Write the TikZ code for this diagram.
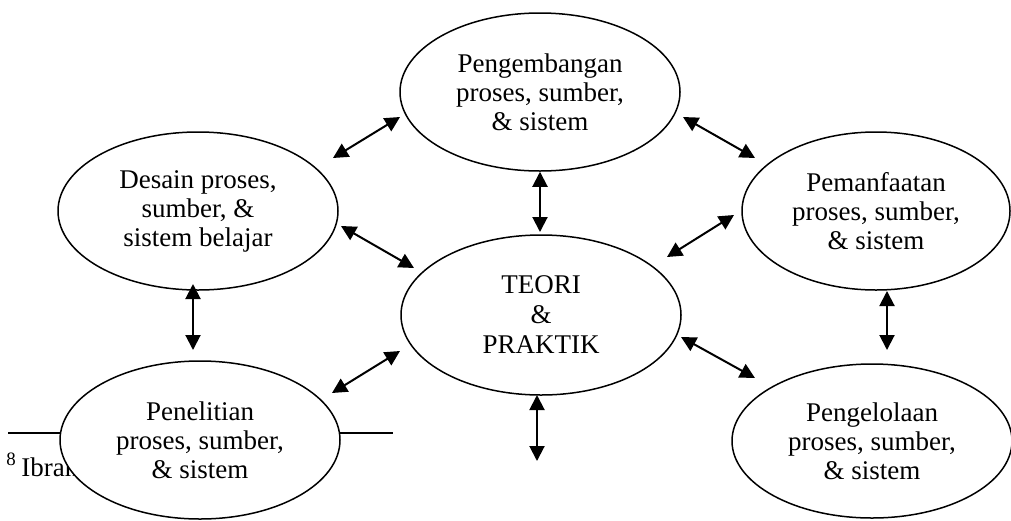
\documentclass[tikz,border=0pt]{standalone}
\usepackage{fontspec}
\setmainfont{Liberation Serif}
\usetikzlibrary{shapes.geometric, arrows.meta, calc}

\tikzset{
  ellbox/.style={ellipse, draw, line width=0.75pt, fill=white,
    minimum width=140pt, minimum height=79pt, inner sep=0pt,
    align=center, font=\fontsize{13.5}{14.5}\selectfont},
  duo/.style={{Triangle[length=7.5pt,width=7.5pt]}-{Triangle[length=7.5pt,width=7.5pt]},
    line width=1pt},
}

\begin{document}
\begin{tikzpicture}[x=0.5pt, y=-0.5pt]
  \useasboundingbox (0,0) rectangle (1011,520);

  % footnote rule, partly under the lower left ellipse
  \draw[line width=1pt] (8,433) -- (393,433);
  \node[anchor=west, inner sep=0pt, font=\fontsize{13.5}{15}\selectfont] (fn) at (6,465) {\textsuperscript{8}\,Ibrahim};

  % ellipses
  \node[ellbox] (dev) at (540,92) {Pengembangan\\proses, sumber,\\\& sistem};
  \node[ellbox] (desain) at (198,211) {Desain proses,\\sumber, \&\\sistem belajar};
  \node[ellbox, minimum width=134pt] (guna) at (876,211) {Pemanfaatan\\proses, sumber,\\\& sistem};
  \node[ellbox, minimum height=80pt, font=\fontsize{13.5}{15}\selectfont] (teori) at (541,315) {TEORI\\\&\\PRAKTIK};
  \node[ellbox] (teliti) at (200,440) {Penelitian\\proses, sumber,\\\& sistem};
  \node[ellbox, minimum height=77pt] (kelola) at (872,441) {Pengelolaan\\proses, sumber,\\\& sistem};

  % two-way arrows
  \draw[duo] ($(dev)+(-140,25)$) -- ($(desain)+(135,-53)$);
  \draw[duo] ($(dev)+(143,25)$) -- ($(guna)+(-121,-53)$);
  \draw[duo] (dev.south) -- ($(teori)+(-1,-83)$);
  \draw[duo] ($(desain)+(143,15)$) -- ($(teori)+(-127,-47)$);
  \draw[duo] ($(guna)+(-142,4)$) -- ($(teori)+(126,-58)$);
  \draw[duo] ($(desain)+(-5,73)$) -- ($(teliti)+(-7,-90)$);
  \draw[duo] ($(guna)+(11,80)$) -- ($(kelola)+(15,-91)$);
  \draw[duo] ($(teliti)+(132,-47)$) -- ($(teori)+(-141,36)$);
  \draw[duo] ($(teori)+(140,22)$) -- ($(kelola)+(-117,-63)$);

  % loose end below the centre
  \coordinate (down) at ($(teori)+(-4,146)$);
  \draw[duo] ($(teori)+(-4,80)$) -- (down);
\end{tikzpicture}
\end{document}
